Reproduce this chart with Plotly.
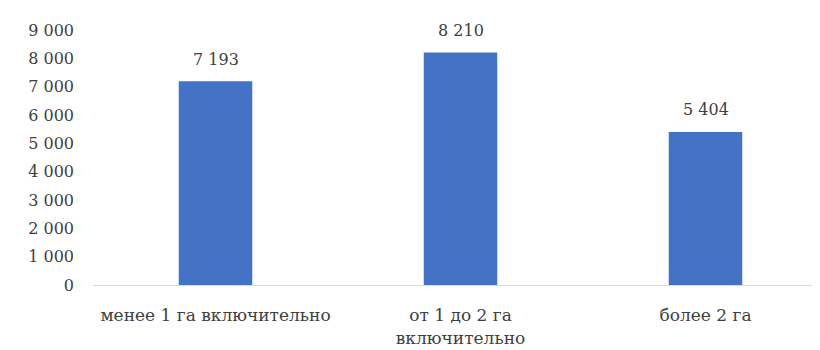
import plotly.graph_objects as go

categories = ['менее 1 га включительно', 'от 1 до 2 га<br>включительно', 'более 2 га']
values = [7193, 8210, 5404]
value_labels = ['7 193', '8 210', '5 404']
tick_vals = [0, 1000, 2000, 3000, 4000, 5000, 6000, 7000, 8000, 9000]

fig = go.Figure(
    go.Bar(
        x=categories,
        y=values,
        marker=dict(color='#4472C4', line=dict(width=0)),
        width=0.30,
    )
)

# подписи значений над столбцами
for cat, val, lab in zip(categories, values, value_labels):
    fig.add_annotation(
        x=cat, y=val, text=lab,
        showarrow=False, yanchor='middle', yshift=22,
        font=dict(size=16, color='#404040'),
    )

fig.update_layout(
    width=820,
    height=350,
    margin=dict(l=85, r=0, t=22, b=73),
    paper_bgcolor='white',
    plot_bgcolor='white',
    separators=', ',
    font=dict(family='DejaVu Serif', size=16, color='#404040'),
    showlegend=False,
)

fig.update_xaxes(
    showline=True,
    linecolor='#D9D9D9',
    linewidth=1,
    ticks='',
    ticklabelstandoff=15,
    tickfont=dict(size=17),
)
fig.update_yaxes(
    range=[0, 9000],
    tickvals=tick_vals,
    tickformat=',d',
    showgrid=False,
    zeroline=False,
    showline=False,
    ticks='',
    ticklabelstandoff=18,
    tickfont=dict(size=16),
)

fig.write_html('out.html')
